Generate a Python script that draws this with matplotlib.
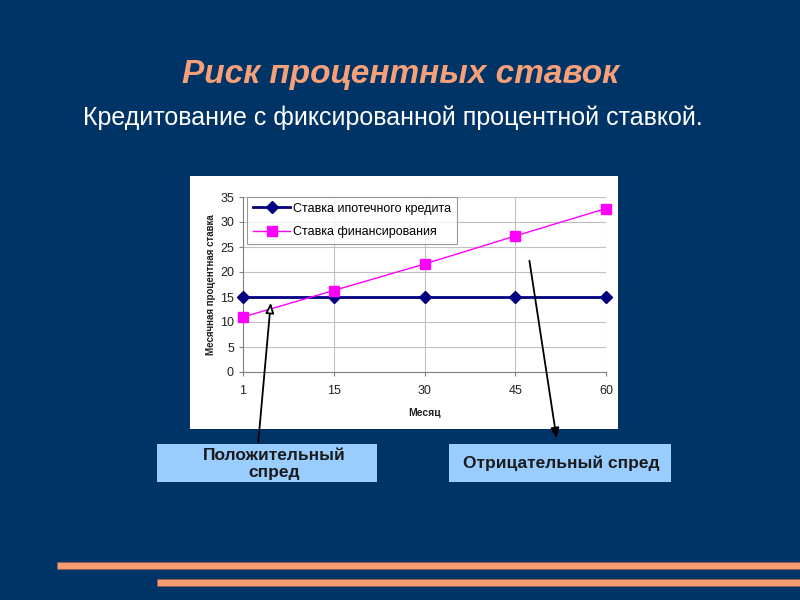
import matplotlib
matplotlib.use("Agg")
import matplotlib.pyplot as plt
from matplotlib.patches import Rectangle

months = ["1", "15", "30", "45", "60"]
mortgage_rate = [15, 15, 15, 15, 15]
funding_rate = [11.0, 16.3, 21.6, 27.2, 32.7]
y_ticks = [0, 5, 10, 15, 20, 25, 30, 35]

series_names = ["Ставка ипотечного кредита", "Ставка финансирования"]
title = "Риск процентных ставок"
subtitle = "Кредитование с фиксированной процентной ставкой."
box_left = "Положительный\nспред"
box_right = "Отрицательный спред"

BG = "#003366"
ORANGE = "#F5A078"
plt.rcParams["font.family"] = ["Liberation Sans", "DejaVu Sans"]

fig = plt.figure(figsize=(8, 6), dpi=100)
fig.patch.set_facecolor(BG)

# background overlay (pixel coordinates)
bg = fig.add_axes([0, 0, 1, 1], zorder=0)
bg.set_xlim(0, 800)
bg.set_ylim(600, 0)
bg.axis("off")
bg.add_patch(Rectangle((190, 176), 428, 253, facecolor="white", edgecolor="none"))
bg.add_patch(Rectangle((57, 562), 743, 7, facecolor="#F79C70", edgecolor="#8a6050", lw=0.5))
bg.add_patch(Rectangle((157, 579), 643, 7, facecolor="#F79C70", edgecolor="#8a6050", lw=0.5))
bg.add_patch(Rectangle((157, 444), 220, 38, facecolor="#99CCFF", edgecolor="none"))
bg.add_patch(Rectangle((449, 444), 222, 38, facecolor="#99CCFF", edgecolor="none"))
bg.text(401, 74, title, ha="center", va="center", fontsize=24, fontweight="bold",
        fontstyle="italic", color=ORANGE)
bg.text(393, 118, subtitle, ha="center", va="center", fontsize=18, color="white")
bg.text(274, 464, box_left, ha="center", va="center", fontsize=12.5, fontweight="bold",
        color="#1a1a1a", linespacing=1.2)
bg.text(561, 463, box_right, ha="center", va="center", fontsize=12.5, fontweight="bold",
        color="#1a1a1a")

# chart
ax = fig.add_axes([243 / 800, 1 - 372 / 600, 363 / 800, 175 / 600], zorder=1)
ax.set_facecolor("white")
x = list(range(len(months)))
ax.plot(x, mortgage_rate, color="#000080", lw=2, marker="D", ms=6.5, label=series_names[0],
        clip_on=False, zorder=3)
ax.plot(x, funding_rate, color="#FF00FF", lw=1, marker="s", ms=6.5, label=series_names[1],
        clip_on=False, zorder=4)
ax.set_xlim(0, len(months) - 1)
ax.set_ylim(0, 35)
ax.set_xticks(x)
ax.set_xticklabels(months)
ax.set_yticks(y_ticks)
ax.grid(True, color="#C0C0C0", lw=0.8)
ax.set_axisbelow(True)
for s in ["top", "right"]:
    ax.spines[s].set_visible(False)
for s in ["left", "bottom"]:
    ax.spines[s].set_color("#808080")
ax.tick_params(axis="both", labelsize=9, colors="#808080", labelcolor="#222222", length=3)
ax.tick_params(axis="x", pad=6)
ax.set_xlabel("Месяц", fontsize=7.5, fontweight="bold", color="#222222", labelpad=8)
ax.set_ylabel("Месячная процентная ставка", fontsize=7, fontweight="bold", color="#222222", labelpad=3)
leg = ax.legend(loc="upper left", bbox_to_anchor=(0.012, 1.0), fontsize=9, frameon=True,
                fancybox=False, edgecolor="#808080", borderaxespad=0, handlelength=3.0,
                labelspacing=0.9, borderpad=0.45, handletextpad=0.2)
leg.get_frame().set_linewidth(0.8)

# arrows overlay
fg = fig.add_axes([0, 0, 1, 1], zorder=2)
fg.set_xlim(0, 800)
fg.set_ylim(600, 0)
fg.axis("off")
fg.patch.set_alpha(0)
fg.annotate("", xy=(271, 300), xytext=(258, 445),
            arrowprops=dict(arrowstyle="-|>,head_length=0.6,head_width=0.25", fc="white",
                            ec="black", lw=1.3))
fg.annotate("", xy=(557, 441), xytext=(529, 258),
            arrowprops=dict(arrowstyle="-|>,head_length=0.6,head_width=0.25", fc="black",
                            ec="black", lw=1.3))

fig.savefig("out.png", dpi=100, facecolor=BG)
